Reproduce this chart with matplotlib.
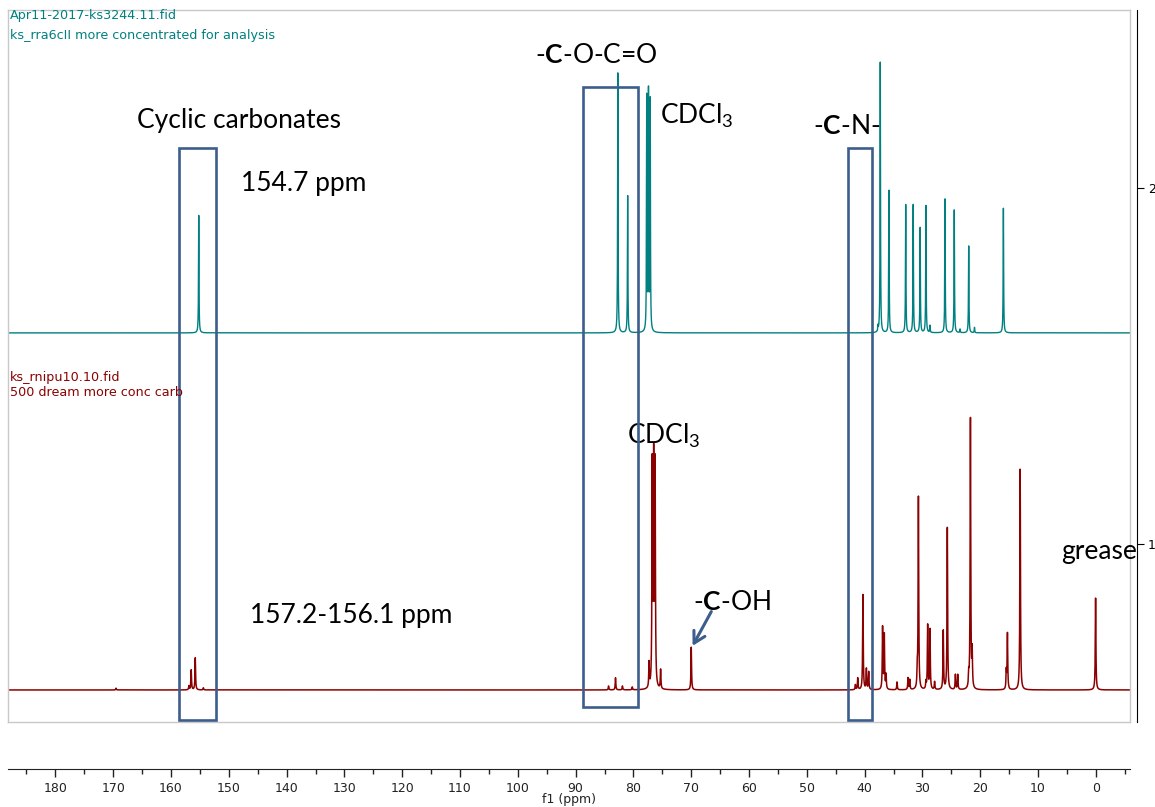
import numpy as np
import matplotlib
matplotlib.use('Agg')
import matplotlib.pyplot as plt
from matplotlib.patches import Rectangle

# peak lists (ppm, height in stacked-plot units)
topPpm = [155.2, 82.7, 81.0, 77.7, 77.4, 77.1, 37.7, 37.3, 35.8, 32.9, 31.6, 30.4,
          29.4, 28.7, 26.1, 24.5, 23.5, 22.0, 21.0, 16.0]
topHeight = [0.33, 0.73, 0.385, 0.655, 0.665, 0.645, 0.015, 0.76, 0.40, 0.36, 0.36, 0.295,
             0.357, 0.02, 0.376, 0.345, 0.01, 0.244, 0.015, 0.35]

bottomPpm = [169.5, 156.9, 156.5, 155.8, 154.4, 84.3, 83.1, 81.9, 80.2, 77.3, 76.75, 76.5,
             76.25, 75.3, 70.0, 41.6, 41.2, 40.3, 39.7, 39.3, 36.9, 36.6, 36.3, 34.4, 32.5,
             32.2, 30.9, 30.7, 29.4, 29.1, 28.7, 27.9, 26.4, 25.7, 24.3, 23.9, 22.0, 21.7,
             21.4, 15.5, 15.3, 13.1, 0.05]
bottomHeight = [0.005, 0.011, 0.056, 0.09, 0.006, 0.011, 0.034, 0.011, 0.008, 0.07, 0.62, 0.625,
                0.62, 0.054, 0.12, 0.014, 0.033, 0.267, 0.058, 0.05, 0.174, 0.152, 0.04, 0.022, 0.033,
                0.028, 0.047, 0.54, 0.02, 0.18, 0.168, 0.022, 0.165, 0.455, 0.042, 0.042, 0.034, 0.76,
                0.10, 0.05, 0.157, 0.62, 0.258]

topBaseline = 1.593
bottomBaseline = 0.59

# highlighted regions: (ppm low, ppm high, y low, y high)
boxes = [(152.25, 158.65, 0.505, 2.111),
         (79.2, 88.75, 0.541, 2.285),
         (38.75, 42.9, 0.505, 2.111)]

xTicks = list(range(0, 181, 10))
yTicks = [1, 2]

BOXCOLOR = '#3d5d8c'
TEAL = '#008080'
DARKRED = '#8b0000'


def buildSpectrum(ppm, positions, heights, hwhm):
    """Sum of lorentzian lines for a peak list"""

    y = np.zeros_like(ppm)
    for p, h in zip(positions, heights):
        y += h * hwhm ** 2 / ((ppm - p) ** 2 + hwhm ** 2)
    return y


def plotSpectra(savePath: str):

    plt.rcParams['mathtext.fontset'] = 'custom'
    plt.rcParams['mathtext.rm'] = 'Lato'
    plt.rcParams['mathtext.bf'] = 'Lato:bold'
    plt.rcParams['mathtext.it'] = 'Lato:italic'
    plt.rcParams['mathtext.default'] = 'regular'

    W, H = 1155, 807
    fig = plt.figure(figsize = (W / 100, H / 100), dpi = 100)
    ax = fig.add_axes([8 / W, (H - 722) / H, 1122 / W, 712 / H])

    ppm = np.arange(-6, 188.2, 0.005)
    ax.plot(ppm, topBaseline + buildSpectrum(ppm, topPpm, topHeight, 0.045), color = TEAL, lw = 1.0)
    ax.plot(ppm, bottomBaseline + buildSpectrum(ppm, bottomPpm, bottomHeight, 0.06), color = DARKRED, lw = 1.1)

    ax.set_xlim(188.2, -5.9)
    ax.set_ylim(0.5, 2.5)

    for sp in ax.spines.values():
        sp.set_color('#c8c8c8')
        sp.set_linewidth(1.0)
    ax.set_xticks([])
    ax.set_yticks([])

    """Separate ppm axis below the frame"""

    sec = ax.secondary_xaxis(-47 / 712)
    sec.set_xticks(xTicks)
    sec.set_xticks(list(range(-5, 186, 5)), minor = True)
    sec.tick_params(axis = 'x', which = 'major', length = 6, width = 1, labelsize = 9, pad = 3, colors = '#222222')
    sec.tick_params(axis = 'x', which = 'minor', length = 3.5, width = 1, color = '#222222')
    sec.spines['bottom'].set_color('#222222')
    sec.set_xlabel('f1 (ppm)', fontsize = 9, labelpad = -1, color = '#222222')

    """Right intensity axis"""

    ax2 = ax.twinx()
    ax2.set_ylim(0.5, 2.5)
    for name in ['left', 'top', 'bottom']:
        ax2.spines[name].set_visible(False)
    ax2.spines['right'].set_position(('outward', 5))
    ax2.spines['right'].set_color('black')
    ax2.set_yticks(yTicks)
    ax2.tick_params(axis = 'y', length = 5, labelsize = 9, pad = 3)

    """Highlight boxes"""

    for x0, x1, y0, y1 in boxes:
        ax.add_patch(Rectangle((x0, y0), x1 - x0, y1 - y0, fill = False, edgecolor = BOXCOLOR,
                               lw = 1.9, clip_on = False, zorder = 5))

    """Labels"""

    tk = dict(fontsize = 19, family = 'Lato', va = 'baseline', ha = 'left', color = 'black')
    ax.text(165.9, 2.169, 'Cyclic carbonates', **tk)
    ax.text(147.9, 1.992, '154.7 ppm', **tk)
    ax.text(97.1, 2.351, r'-$\mathbf{C}$-O-C=O', **tk)
    ax.text(75.4, 2.18, r'CDCl$_3$', **tk)
    ax.text(49.0, 2.152, r'-$\mathbf{C}$-N-', **tk)
    ax.text(81.1, 1.281, r'CDCl$_3$', **tk)
    ax.text(69.7, 0.815, r'-$\mathbf{C}$-OH', **tk)
    ax.text(146.3, 0.778, '157.2-156.1 ppm', **tk)
    ax2.text(6.06, 0.958, 'grease', zorder = 6, **tk)

    ax.annotate('', xy = (70.0, 0.707), xytext = (66.3, 0.817),
                arrowprops = dict(arrowstyle = '->,head_length=0.8,head_width=0.45', color = BOXCOLOR, lw = 2.2))

    fig.text(10 / W, 1 - 15 / H, 'Apr11-2017-ks3244.11.fid', fontsize = 9.2, color = TEAL, va = 'center')
    fig.text(10 / W, 1 - 35 / H, 'ks_rra6cII more concentrated for analysis', fontsize = 9.2, color = TEAL, va = 'center')
    fig.text(10 / W, 1 - 377 / H, 'ks_rnipu10.10.fid', fontsize = 9.2, color = DARKRED, va = 'center')
    fig.text(10 / W, 1 - 392 / H, '500 dream more conc carb', fontsize = 9.2, color = DARKRED, va = 'center')

    """Save figure"""

    fig.savefig(savePath, dpi = 100)
    plt.close(fig)


plotSpectra('out.png')
